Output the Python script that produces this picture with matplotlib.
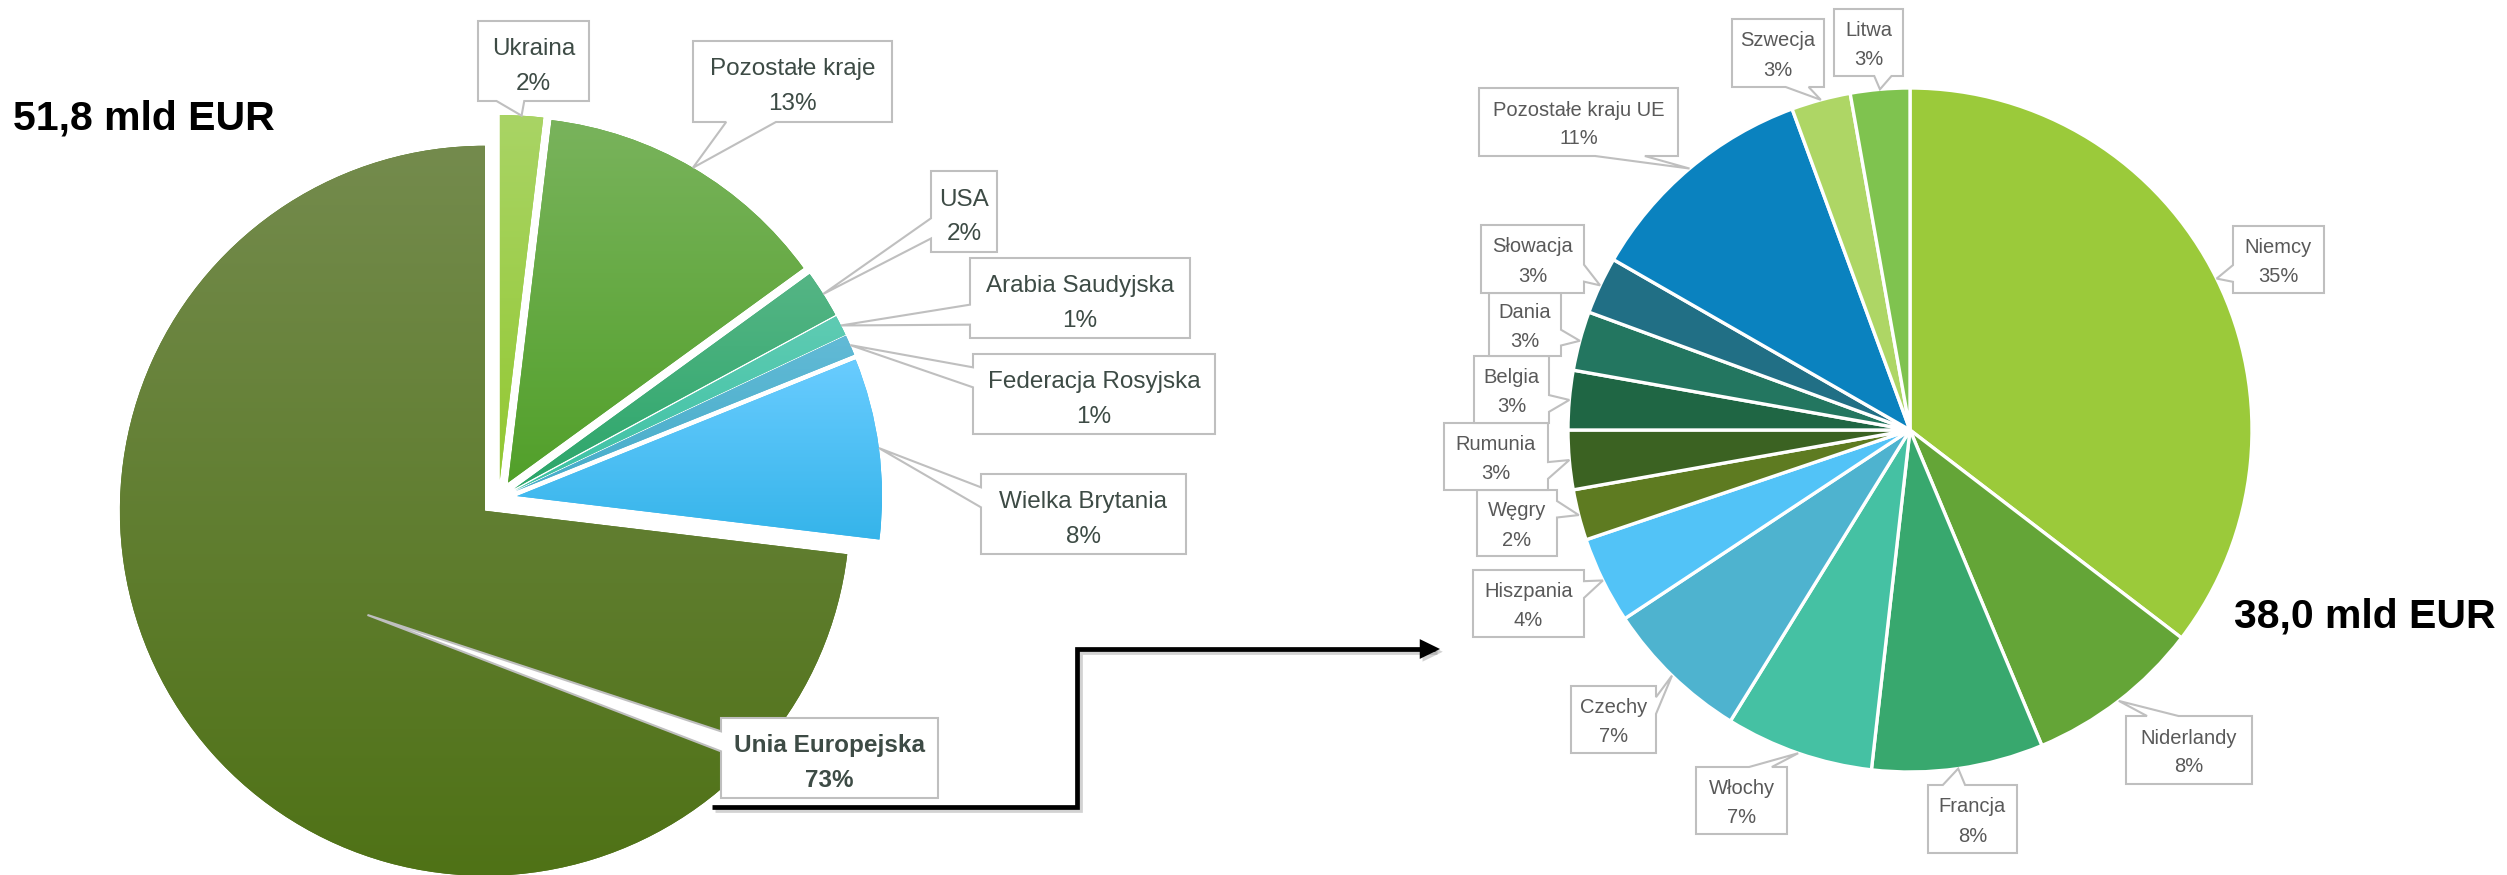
import numpy as np
import matplotlib
matplotlib.use('Agg')
import matplotlib.pyplot as plt
import matplotlib.colors as mcolors
import matplotlib.patheffects as pe
from matplotlib.patches import Polygon, FancyArrowPatch
from matplotlib.path import Path

plt.rcParams['font.family'] = ['Liberation Sans', 'DejaVu Sans']

W, H = 2507, 875

# --- data ---
world_labels = ['Ukraina', 'Pozostałe kraje', 'USA', 'Arabia Saudyjska',
                'Federacja Rosyjska', 'Wielka Brytania', 'Unia Europejska']
world_share = [1.9, 13.1, 2.1, 0.9, 0.9, 8.0, 73.1]
world_total = '51,8 mld EUR'

eu_labels = ['Niemcy', 'Niderlandy', 'Francja', 'Włochy', 'Czechy', 'Hiszpania',
             'Węgry', 'Rumunia', 'Belgia', 'Dania', 'Słowacja',
             'Pozostałe kraju UE', 'Szwecja', 'Litwa']
eu_share = [35.4, 8.3, 8.1, 7.0, 6.9, 4.1, 2.4, 2.8, 2.8, 2.8, 2.7, 11.1, 2.8, 2.8]
eu_total = '38,0 mld EUR'

# --- styles / layout (pixel coords, y down) ---
world_top = ['#a9d465', '#79b35c', '#55b585', '#5fcbb3', '#62bad6', '#69ccff', '#748b4d']
world_bottom = ['#93c832', '#52a02a', '#2ba66a', '#3cc2a3', '#46acc9', '#35b4ea', '#4f7216']
eu_colors = ['#9bca3a', '#64a537', '#38a86e', '#45c1a3', '#4eb3cf', '#52c3f7', '#5e7b21',
             '#3b6222', '#1f6644', '#237660', '#216f85', '#0a82bf', '#aed665', '#7fc34f']

world_boxes = [(478, 21, 589, 101), (693, 41, 892, 122), (931, 171, 997, 252),
               (970, 258, 1190, 338), (973, 354, 1215, 434), (981, 474, 1186, 554),
               (721, 718, 938, 798)]
world_tip = [1, 1, 1, 1, 1, 1, 0.43]
eu_boxes = [(2233, 226, 2324, 293), (2126, 716, 2252, 784), (1928, 785, 2017, 853),
            (1696, 767, 1787, 834), (1571, 686, 1656, 753), (1473, 570, 1584, 637),
            (1477, 490, 1557, 556), (1444, 423, 1548, 490), (1474, 356, 1549, 423),
            (1489, 293, 1561, 356), (1481, 225, 1584, 293), (1479, 88, 1678, 156),
            (1732, 19, 1824, 87), (1834, 9, 1903, 76)]


def callout(ax, box, tip):
    # Excel style wedgeRectCallout, pixel coords (y down)
    l, t, r, b = box
    tx, ty = tip
    w, h = r - l, b - t
    dxp, dyp = tx - (l + r) / 2, ty - (t + b) / 2
    x1 = l + w * (7 if dxp > 0 else 2) / 12
    x2 = l + w * (10 if dxp > 0 else 5) / 12
    y1 = t + h * (7 if dyp > 0 else 2) / 12
    y2 = t + h * (10 if dyp > 0 else 5) / 12
    if abs(dyp * w) > abs(dxp * h):
        if dyp < 0:
            pts = [(l, t), (x1, t), (tx, ty), (x2, t), (r, t), (r, b), (l, b)]
        else:
            pts = [(l, t), (r, t), (r, b), (x2, b), (tx, ty), (x1, b), (l, b)]
    else:
        if dxp < 0:
            pts = [(l, t), (r, t), (r, b), (l, b), (l, y2), (tx, ty), (l, y1)]
        else:
            pts = [(l, t), (r, t), (r, y1), (tx, ty), (r, y2), (r, b), (l, b)]
    pts = [(x, H - y) for x, y in pts]
    ax.add_patch(Polygon(pts, closed=True, facecolor='white', edgecolor='#bfbfbf',
                         lw=1.5, joinstyle='miter', zorder=5))


def wedge_tip(wedge, frac):
    mid = np.deg2rad((wedge.theta1 + wedge.theta2) / 2)
    x = wedge.center[0] + frac * wedge.r * np.cos(mid)
    y = wedge.center[1] + frac * wedge.r * np.sin(mid)
    return x, H - y


def fill_gradient(ax, wedge, top, bottom):
    bb = wedge.get_path().get_extents()
    t = np.linspace(0, 1, 256)[:, None]
    img = (np.array(mcolors.to_rgb(bottom)) * (1 - t) + np.array(mcolors.to_rgb(top)) * t)[:, None, :]
    im = ax.imshow(img, extent=(bb.x0, bb.x1, bb.y0, bb.y1), origin='lower',
                   aspect='auto', interpolation='bilinear', zorder=2)
    im.set_clip_path(wedge)


fig = plt.figure(figsize=(W / 100, H / 100), dpi=100)
ax = fig.add_axes([0, 0, 1, 1])

# --- left pie: all exports ---
left_wedges, _ = ax.pie(world_share, colors=world_bottom, startangle=90, counterclock=False,
                        radius=365, center=(498.7, H - 498.5), explode=[18.5] * len(world_share),
                        wedgeprops=dict(linewidth=0))
for wdg, c_top, c_bot in zip(left_wedges, world_top, world_bottom):
    fill_gradient(ax, wdg, c_top, c_bot)

# --- right pie: EU ---
right_wedges, _ = ax.pie(eu_share, colors=eu_colors, startangle=90, counterclock=False,
                         radius=342, center=(1910, H - 430),
                         wedgeprops=dict(linewidth=2.4, edgecolor='white'))

# --- callouts ---
total_w = sum(world_share)
for wdg, lab, val, box, frac in zip(left_wedges, world_labels, world_share, world_boxes, world_tip):
    callout(ax, box, wedge_tip(wdg, frac))
    cx, cy = (box[0] + box[2]) / 2, (box[1] + box[3]) / 2
    weight = 'bold' if lab == 'Unia Europejska' else 'normal'
    ax.text(cx, H - (cy - 6), lab, ha='center', va='baseline', fontsize=17.5,
            color='#3d4b45', fontweight=weight, zorder=6)
    ax.text(cx, H - (cy + 29), f'{round(val / total_w * 100)}%', ha='center', va='baseline',
            fontsize=17.5, color='#3d4b45', fontweight=weight, zorder=6)

total_eu = sum(eu_share)
for wdg, lab, val, box in zip(right_wedges, eu_labels, eu_share, eu_boxes):
    callout(ax, box, wedge_tip(wdg, 1))
    cx, cy = (box[0] + box[2]) / 2, (box[1] + box[3]) / 2
    ax.text(cx, H - (cy - 6.5), lab, ha='center', va='baseline', fontsize=14.5,
            color='#595959', zorder=6)
    ax.text(cx, H - (cy + 22.5), f'{round(val / total_eu * 100)}%', ha='center', va='baseline',
            fontsize=14.5, color='#595959', zorder=6)

# --- totals ---
ax.text(13, H - 129, world_total, ha='left', va='baseline', fontsize=29.5,
        fontweight='bold', color='black')
ax.text(2234, H - 627, eu_total, ha='left', va='baseline', fontsize=29.5,
        fontweight='bold', color='black')

# --- connector arrow ---
arrow_pts = [(712, 807), (1077, 807), (1077, 649), (1440, 649)]
arrow = FancyArrowPatch(path=Path([(x, H - y) for x, y in arrow_pts]),
                        arrowstyle='-|>,head_length=0.45,head_width=0.22', mutation_scale=20,
                        lw=3.4, color='black', joinstyle='miter', capstyle='butt', zorder=4,
                        path_effects=[pe.SimpleLineShadow(offset=(2, -2), shadow_color='gray', alpha=0.35),
                                      pe.Normal()])
ax.add_patch(arrow)

ax.set_xlim(0, W)
ax.set_ylim(0, H)
ax.set_aspect('auto')
ax.axis('off')

fig.savefig('out.png', dpi=100)
